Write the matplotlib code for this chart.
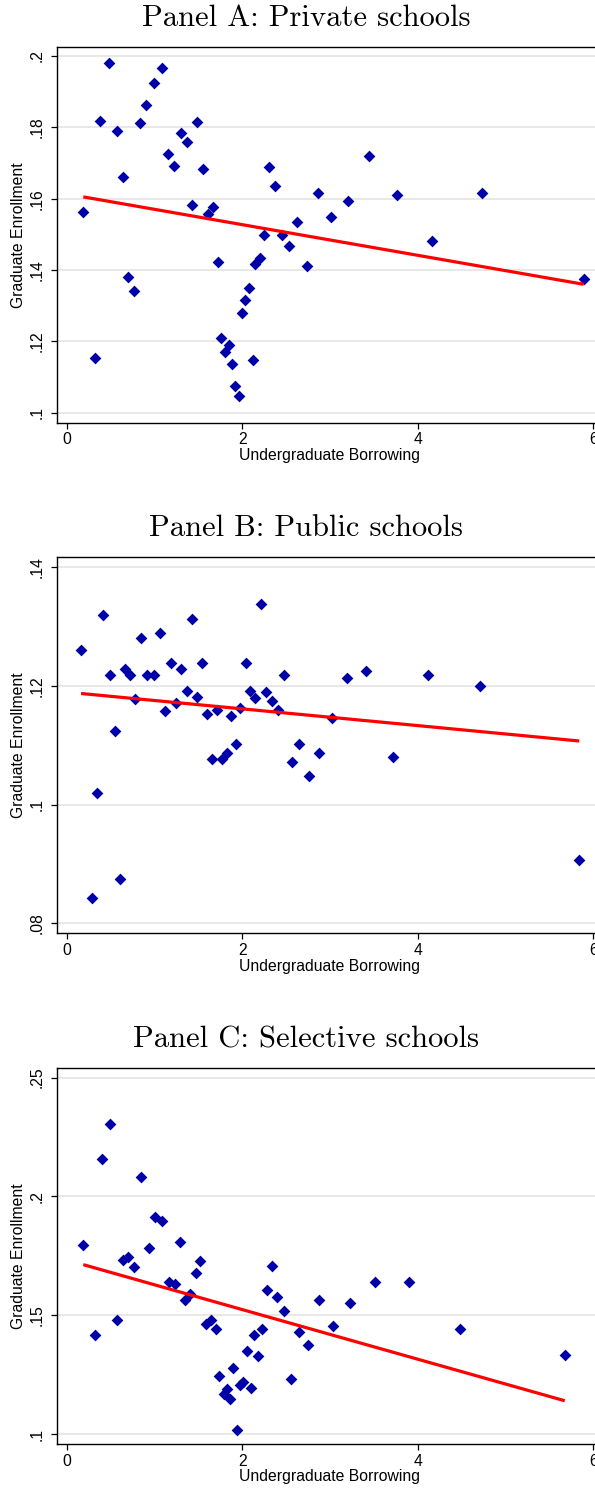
import matplotlib
matplotlib.use("Agg")
import matplotlib.pyplot as plt
from matplotlib.ticker import FuncFormatter, FixedLocator
import numpy as np

# ---- Panel A: private schools ----
private_borrow = [0.19, 0.325, 0.385, 0.48, 0.57, 0.64, 0.70, 0.77, 0.84, 0.91,
                  1.00, 1.09, 1.16, 1.22, 1.30, 1.37, 1.43, 1.49, 1.55, 1.61,
                  1.67, 1.72, 1.76, 1.81, 1.85, 1.885, 1.92, 1.96, 2.00, 2.03,
                  2.075, 2.12, 2.15, 2.20, 2.25, 2.31, 2.37, 2.45, 2.53, 2.62,
                  2.74, 2.86, 3.01, 3.20, 3.45, 3.76, 4.16, 4.73, 5.89]
private_grad = [0.1562, 0.1152, 0.1817, 0.1980, 0.1790, 0.1662, 0.1380, 0.1342, 0.1813, 0.1863,
                0.1923, 0.1965, 0.1725, 0.1691, 0.1784, 0.1758, 0.1583, 0.1815, 0.1682, 0.1558,
                0.1577, 0.1423, 0.1209, 0.1170, 0.1190, 0.1136, 0.1074, 0.1047, 0.1280, 0.1316,
                0.1350, 0.1147, 0.1418, 0.1434, 0.1499, 0.1690, 0.1636, 0.1499, 0.1466, 0.1535,
                0.1412, 0.1616, 0.1550, 0.1593, 0.1720, 0.1609, 0.1481, 0.1615, 0.1376]
private_fit = [0.1605, 0.1360]

# ---- Panel B: public schools ----
public_borrow = [0.165, 0.294, 0.344, 0.41, 0.49, 0.556, 0.613, 0.67, 0.72, 0.777,
                 0.85, 0.917, 0.997, 1.06, 1.12, 1.19, 1.25, 1.30, 1.37, 1.43,
                 1.49, 1.54, 1.60, 1.66, 1.71, 1.77, 1.825, 1.87, 1.93, 1.975,
                 2.04, 2.09, 2.15, 2.21, 2.27, 2.34, 2.41, 2.48, 2.565, 2.645,
                 2.76, 2.88, 3.02, 3.19, 3.415, 3.72, 4.12, 4.71, 5.84]
public_grad = [0.1260, 0.0842, 0.1019, 0.1319, 0.1218, 0.1124, 0.0875, 0.1228, 0.1218, 0.1177,
               0.1280, 0.1218, 0.1218, 0.1289, 0.1157, 0.1239, 0.1171, 0.1228, 0.1192, 0.1312,
               0.1181, 0.1239, 0.1153, 0.1076, 0.1159, 0.1076, 0.1087, 0.1149, 0.1102, 0.1163,
               0.1239, 0.1192, 0.1179, 0.1338, 0.1189, 0.1174, 0.1160, 0.1218, 0.1072, 0.1102,
               0.1048, 0.1087, 0.1146, 0.1213, 0.1225, 0.1080, 0.1218, 0.1200, 0.0907]
public_fit = [0.1187, 0.1107]

# ---- Panel C: selective schools ----
selective_borrow = [0.19, 0.325, 0.40, 0.49, 0.57, 0.64, 0.70, 0.765, 0.85, 0.94,
                    1.01, 1.09, 1.17, 1.23, 1.29, 1.35, 1.41, 1.475, 1.52, 1.585,
                    1.64, 1.70, 1.74, 1.79, 1.83, 1.86, 1.90, 1.94, 1.975, 2.01,
                    2.055, 2.10, 2.135, 2.18, 2.23, 2.28, 2.34, 2.40, 2.48, 2.56,
                    2.645, 2.75, 2.875, 3.03, 3.225, 3.51, 3.90, 4.48, 5.675]
selective_grad = [0.1797, 0.1417, 0.2156, 0.2306, 0.1482, 0.1731, 0.1745, 0.1705, 0.2080, 0.1781,
                  0.1913, 0.1895, 0.1641, 0.1630, 0.1808, 0.1565, 0.1588, 0.1678, 0.1729, 0.1463,
                  0.1480, 0.1443, 0.1244, 0.1170, 0.1188, 0.1146, 0.1279, 0.1015, 0.1205, 0.1219,
                  0.1348, 0.1195, 0.1418, 0.1330, 0.1443, 0.1607, 0.1706, 0.1575, 0.1519, 0.1232,
                  0.1429, 0.1373, 0.1564, 0.1456, 0.1553, 0.1641, 0.1641, 0.1444, 0.1331]
selective_fit = [0.1713, 0.1140]

titles = ["Panel A: Private schools", "Panel B: Public schools", "Panel C: Selective schools"]
x_ticks = [0, 2, 4, 6]
y_ticks_a = [0.10, 0.12, 0.14, 0.16, 0.18, 0.20]
y_ticks_b = [0.08, 0.10, 0.12, 0.14]
y_ticks_c = [0.10, 0.15, 0.20, 0.25]

W, H = 595, 1490
DPI = 100
fig = plt.figure(figsize=(W / DPI, H / DPI), dpi=DPI)
fig.patch.set_facecolor("white")

SANS = "Liberation Sans"
FS = 11.3
MARKER_C = "#0000A8"

# pixel boxes: (left, top, right, bottom)
panels = [
    dict(box=(56.7, 46.7, 600, 422.7), x=private_borrow, y=private_grad, fit=private_fit,
         yticks=y_ticks_a, ylim=(0.0972, 0.2026), title_y=18),
    dict(box=(56.7, 556.7, 600, 933.3), x=public_borrow, y=public_grad, fit=public_fit,
         yticks=y_ticks_b, ylim=(0.07831, 0.14174), title_y=528),
    dict(box=(56.7, 1067.7, 600, 1444.0), x=selective_borrow, y=selective_grad, fit=selective_fit,
         yticks=y_ticks_c, ylim=(0.0958, 0.2542), title_y=1040),
]

def stata_fmt(v, _pos):
    s = f"{v:g}"
    if s.startswith("0."):
        s = s[1:]
    return s

x0_px, x6_px = 66.6, 593.3
px_per_unit = (x6_px - x0_px) / 6.0

for title, p in zip(titles, panels):
    l, t, r, b = p["box"]
    ax = fig.add_axes([l / W, 1 - b / H, (r - l) / W, (b - t) / H])
    xlo = (l - x0_px) / px_per_unit
    xhi = (r - x0_px) / px_per_unit
    ax.set_xlim(xlo, xhi)
    ax.set_ylim(*p["ylim"])

    ax.yaxis.set_major_locator(FixedLocator(p["yticks"]))
    ax.xaxis.set_major_locator(FixedLocator(x_ticks))
    ax.yaxis.set_major_formatter(FuncFormatter(stata_fmt))
    ax.grid(axis="y", color="#e1e1e1", linewidth=1.1, zorder=0)
    ax.set_axisbelow(True)

    ax.scatter(p["x"], p["y"], marker="D", s=36, color=MARKER_C, linewidths=0, zorder=3)
    xs = [min(p["x"]), max(p["x"])]
    ax.plot(xs, p["fit"], color="#ff0000", linewidth=2.3, solid_capstyle="butt", zorder=4)

    for sp in ax.spines.values():
        sp.set_color("black")
        sp.set_linewidth(1.0)

    ax.tick_params(axis="both", direction="out", length=4, width=0.9, color="black",
                   labelsize=FS, pad=3)
    ax.tick_params(axis="y", pad=5)
    for lab in ax.get_yticklabels():
        lab.set_rotation(90)
        lab.set_va("center")
        lab.set_ha("right")
        lab.set_fontfamily(SANS)
    for lab in ax.get_xticklabels():
        lab.set_fontfamily(SANS)

    # axis titles
    fig.text(19 / W, 1 - ((t + b) / 2) / H, "Graduate Enrollment", rotation=90,
             ha="center", va="center", fontsize=FS, family=SANS)
    fig.text(329.5 / W, 1 - (b + 33) / H, "Undergraduate Borrowing",
             ha="center", va="center", fontsize=FS, family=SANS)

    fig.text(306 / W, 1 - p["title_y"] / H, title, ha="center", va="center",
             fontsize=22, family="cmr10")

fig.savefig("out.png", dpi=DPI, facecolor="white")
